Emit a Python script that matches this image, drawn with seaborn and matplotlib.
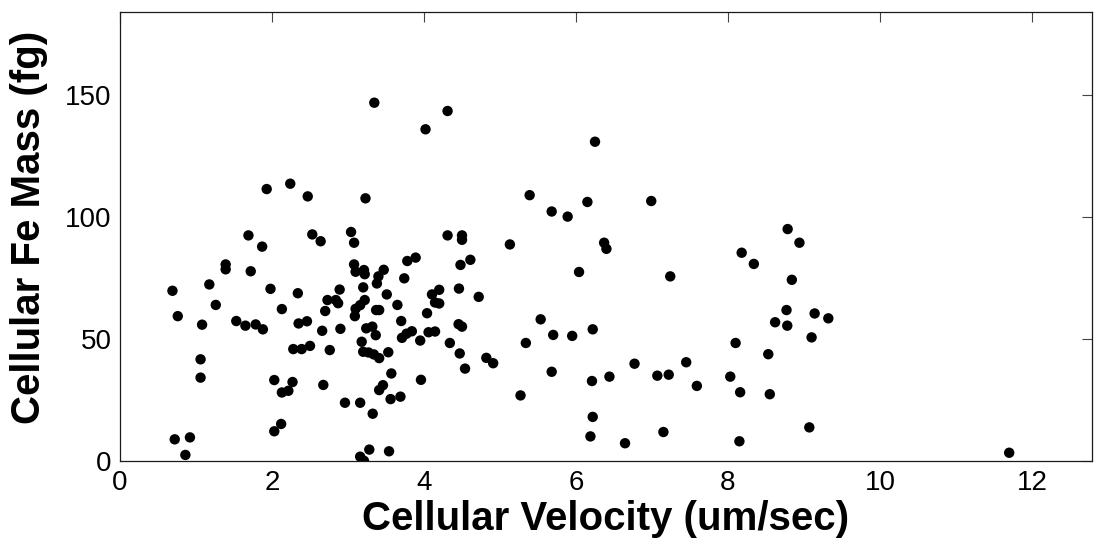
import matplotlib
matplotlib.use("Agg")
import matplotlib.pyplot as plt
import seaborn as sns
import pandas as pd

# Cellular velocity (um/sec) and cellular Fe mass (fg) for each tracked cell
velocity = [
    0.69, 0.76, 0.72, 0.92, 0.86, 1.08, 1.06, 1.06, 1.175, 1.26,
    1.39, 1.39, 1.53, 1.65, 1.69, 1.72, 1.785, 1.87, 1.88, 1.93,
    1.98, 2.03, 2.03, 2.12, 2.13, 2.13, 2.215, 2.24, 2.27, 2.28,
    2.34, 2.35, 2.39, 2.46, 2.47, 2.50, 2.53, 2.64, 2.66, 2.675,
    2.70, 2.73, 2.76, 2.84, 2.87, 2.89, 2.90, 2.96, 3.04, 3.08,
    3.08, 3.10, 3.21, 3.22, 3.23, 3.16, 3.16, 3.21, 3.28, 3.20,
    3.22, 3.16, 3.10, 3.09, 3.18, 3.24, 3.32, 3.365, 3.20, 3.27,
    3.34, 3.41, 3.53, 3.325, 3.346, 3.37, 3.41, 3.38, 3.40, 3.47,
    3.51, 3.54, 3.57, 3.46, 3.41, 3.56, 3.69, 3.65, 3.70, 3.74,
    3.78, 3.89, 3.71, 3.77, 3.84, 3.95, 3.96, 4.02, 4.04, 4.06,
    4.145, 4.105, 4.20, 4.145, 4.20, 4.31, 4.31, 4.34, 4.455, 4.50,
    4.46, 4.47, 4.48, 4.50, 4.50, 4.54, 4.61, 4.72, 4.82, 4.91,
    5.13, 5.27, 5.34, 5.39, 5.535, 5.68, 5.70, 5.68, 5.89, 5.95,
    6.04, 6.15, 6.22, 6.21, 6.22, 6.19, 6.25, 6.37, 6.40, 6.44,
    6.645, 6.77, 6.99, 7.07, 7.15, 7.22, 7.24, 7.45, 7.59, 8.03,
    8.10, 8.15, 8.16, 8.18, 8.34, 8.53, 8.55, 8.62, 8.77, 8.78,
    8.785, 8.84, 8.94, 9.07, 9.10, 9.14, 9.32, 11.70,
]
fe_mass = [
    69.9, 59.5, 9.0, 9.8, 2.6, 56.0, 41.8, 34.3, 72.5, 64.1,
    80.7, 78.7, 57.5, 55.6, 92.6, 77.9, 56.1, 88.0, 54.1, 111.6,
    70.7, 33.3, 12.3, 15.3, 62.4, 28.2, 28.9, 113.8, 32.5, 46.0,
    68.9, 56.5, 46.0, 57.4, 108.6, 47.3, 93.0, 90.2, 53.5, 31.3,
    61.6, 66.1, 45.6, 66.1, 64.8, 70.4, 54.3, 24.0, 94.0, 89.6,
    80.7, 77.7, 78.4, 76.7, 107.8, 24.0, 1.9, 0.2, 4.8, 71.3,
    66.1, 64.0, 62.5, 59.5, 49.0, 54.5, 55.2, 51.7, 44.9, 44.6,
    43.8, 42.3, 44.7, 19.5, 147.0, 62.0, 62.0, 72.9, 75.8, 78.5,
    68.4, 4.1, 36.0, 31.2, 29.2, 25.5, 26.5, 64.1, 57.5, 75.0,
    82.1, 83.5, 50.6, 52.3, 53.3, 49.5, 33.4, 136.1, 60.7, 52.9,
    53.2, 68.4, 70.3, 65.1, 64.7, 143.6, 92.6, 48.5, 56.2, 55.2,
    70.8, 44.2, 80.5, 92.6, 90.8, 38.0, 82.6, 67.4, 42.4, 40.2,
    88.9, 27.0, 48.5, 109.1, 58.2, 102.4, 51.8, 36.7, 100.3, 51.4,
    77.6, 106.3, 54.1, 32.9, 18.2, 10.2, 131.0, 89.6, 87.1, 34.7,
    7.4, 40.0, 106.7, 35.1, 12.0, 35.5, 75.8, 40.6, 30.9, 34.7,
    48.5, 8.2, 28.3, 85.5, 80.9, 43.9, 27.5, 57.0, 62.0, 55.6,
    95.2, 74.4, 89.6, 13.9, 50.8, 60.6, 58.6, 3.5,
]

x_ticks = [0, 2, 4, 6, 8, 10, 12]
y_ticks = [0, 50, 100, 150]

df = pd.DataFrame({"velocity": velocity, "fe_mass": fe_mass})

sns.set_style("white")
plt.rcParams["font.family"] = ["Liberation Sans", "DejaVu Sans"]
plt.rcParams["text.color"] = "black"
plt.rcParams["axes.labelcolor"] = "black"

fig = plt.figure(figsize=(10.94, 5.45), dpi=100)
ax = fig.add_axes([0.1097, 0.1536, 0.8885, 0.8249])

sns.scatterplot(data=df, x="velocity", y="fe_mass", ax=ax,
                color="black", s=56, edgecolor="none", linewidth=0)

ax.set_xlim(0, 12.79)
ax.set_ylim(0, 184.3)
ax.set_xticks(x_ticks)
ax.set_yticks(y_ticks)
ax.set_xticklabels([str(t) for t in x_ticks])
ax.set_yticklabels([str(t) for t in y_ticks])

ax.tick_params(direction="in", top=True, right=True, length=7, width=0.8,
               color="#444444", labelsize=20, labelcolor="black")
ax.tick_params(axis="x", pad=6)
ax.tick_params(axis="y", pad=6)

for sp in ax.spines.values():
    sp.set_visible(True)
    sp.set_color("#1a1a1a")
    sp.set_linewidth(0.9)

ax.set_xlabel("Cellular Velocity (um/sec)", fontsize=29, fontweight="bold")
ax.set_ylabel("Cellular Fe Mass (fg)", fontsize=29, fontweight="bold")
ax.xaxis.set_label_coords(0.5, -0.087)
ax.yaxis.set_label_coords(-0.074, 0.52)

fig.savefig("out.png", dpi=100, facecolor="white")
